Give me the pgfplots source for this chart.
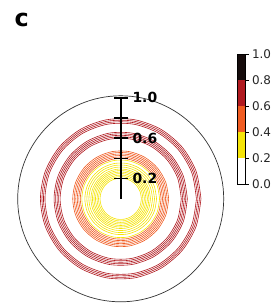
\documentclass[border=0pt]{standalone}
\usepackage{fontspec}
\setmainfont{DejaVu Sans}
\usepackage{pgfplots}
\usepackage{pgfplotstable}
\pgfplotsset{compat=1.18}
\usepgfplotslibrary{polar}

\definecolor{BIyellow}{RGB}{245,228,8}
\definecolor{BIorange}{RGB}{240,92,34}
\definecolor{BIred}{RGB}{176,26,32}
\definecolor{BIblack}{RGB}{22,12,12}

% rings: angle a (deg) and one radius (= BI value) per ring
\pgfplotstableread{
a   r1    r2   r3    r4   r5    r6   r7    r8    r9    r10   r11
0   0.205 0.22 0.235 0.25 0.265 0.28 0.295 0.315 0.335 0.355 0.385
20  0.205 0.22 0.235 0.25 0.265 0.28 0.295 0.315 0.335 0.355 0.385
40  0.205 0.22 0.235 0.25 0.265 0.28 0.295 0.315 0.335 0.355 0.385
60  0.205 0.22 0.235 0.25 0.265 0.28 0.295 0.315 0.335 0.355 0.385
80  0.205 0.22 0.235 0.25 0.265 0.28 0.295 0.315 0.335 0.355 0.385
100 0.205 0.22 0.235 0.25 0.265 0.28 0.295 0.315 0.335 0.355 0.385
120 0.205 0.22 0.235 0.25 0.265 0.28 0.295 0.315 0.335 0.355 0.385
140 0.205 0.22 0.235 0.25 0.265 0.28 0.295 0.315 0.335 0.355 0.385
160 0.205 0.22 0.235 0.25 0.265 0.28 0.295 0.315 0.335 0.355 0.385
180 0.205 0.22 0.235 0.25 0.265 0.28 0.295 0.315 0.335 0.355 0.385
200 0.205 0.22 0.235 0.25 0.265 0.28 0.295 0.315 0.335 0.355 0.385
220 0.205 0.22 0.235 0.25 0.265 0.28 0.295 0.315 0.335 0.355 0.385
240 0.205 0.22 0.235 0.25 0.265 0.28 0.295 0.315 0.335 0.355 0.385
260 0.205 0.22 0.235 0.25 0.265 0.28 0.295 0.315 0.335 0.355 0.385
280 0.205 0.22 0.235 0.25 0.265 0.28 0.295 0.315 0.335 0.355 0.385
300 0.205 0.22 0.235 0.25 0.265 0.28 0.295 0.315 0.335 0.355 0.385
320 0.205 0.22 0.235 0.25 0.265 0.28 0.295 0.315 0.335 0.355 0.385
340 0.205 0.22 0.235 0.25 0.265 0.28 0.295 0.315 0.335 0.355 0.385
360 0.205 0.22 0.235 0.25 0.265 0.28 0.295 0.315 0.335 0.355 0.385
}\yellowT

\pgfplotstableread{
a   r1   r2    r3   r4    r5   r6
0   0.40 0.415 0.43 0.445 0.46 0.475
20  0.40 0.415 0.43 0.445 0.46 0.475
40  0.40 0.415 0.43 0.445 0.46 0.475
60  0.40 0.415 0.43 0.445 0.46 0.475
80  0.40 0.415 0.43 0.445 0.46 0.475
100 0.40 0.415 0.43 0.445 0.46 0.475
120 0.40 0.415 0.43 0.445 0.46 0.475
140 0.40 0.415 0.43 0.445 0.46 0.475
160 0.40 0.415 0.43 0.445 0.46 0.475
180 0.40 0.415 0.43 0.445 0.46 0.475
200 0.40 0.415 0.43 0.445 0.46 0.475
220 0.40 0.415 0.43 0.445 0.46 0.475
240 0.40 0.415 0.43 0.445 0.46 0.475
260 0.40 0.415 0.43 0.445 0.46 0.475
280 0.40 0.415 0.43 0.445 0.46 0.475
300 0.40 0.415 0.43 0.445 0.46 0.475
320 0.40 0.415 0.43 0.445 0.46 0.475
340 0.40 0.415 0.43 0.445 0.46 0.475
360 0.40 0.415 0.43 0.445 0.46 0.475
}\orangeT

\pgfplotstableread{
a   r1   r2    r3   r4    r5   r6   r7    r8   r9
0   0.60 0.615 0.63 0.645 0.66 0.75 0.765 0.78 0.795
20  0.60 0.615 0.63 0.645 0.66 0.75 0.765 0.78 0.795
40  0.60 0.615 0.63 0.645 0.66 0.75 0.765 0.78 0.795
60  0.60 0.615 0.63 0.645 0.66 0.75 0.765 0.78 0.795
80  0.60 0.615 0.63 0.645 0.66 0.75 0.765 0.78 0.795
100 0.60 0.615 0.63 0.645 0.66 0.75 0.765 0.78 0.795
120 0.60 0.615 0.63 0.645 0.66 0.75 0.765 0.78 0.795
140 0.60 0.615 0.63 0.645 0.66 0.75 0.765 0.78 0.795
160 0.60 0.615 0.63 0.645 0.66 0.75 0.765 0.78 0.795
180 0.60 0.615 0.63 0.645 0.66 0.75 0.765 0.78 0.795
200 0.60 0.615 0.63 0.645 0.66 0.75 0.765 0.78 0.795
220 0.60 0.615 0.63 0.645 0.66 0.75 0.765 0.78 0.795
240 0.60 0.615 0.63 0.645 0.66 0.75 0.765 0.78 0.795
260 0.60 0.615 0.63 0.645 0.66 0.75 0.765 0.78 0.795
280 0.60 0.615 0.63 0.645 0.66 0.75 0.765 0.78 0.795
300 0.60 0.615 0.63 0.645 0.66 0.75 0.765 0.78 0.795
320 0.60 0.615 0.63 0.645 0.66 0.75 0.765 0.78 0.795
340 0.60 0.615 0.63 0.645 0.66 0.75 0.765 0.78 0.795
360 0.60 0.615 0.63 0.645 0.66 0.75 0.765 0.78 0.795
}\redT

\begin{document}
\begin{tikzpicture}
\path[use as bounding box] (0,0) rectangle (280bp,304bp);

% polar rings
\begin{polaraxis}[
  at={(120.7bp,105.2bp)}, anchor=center,
  scale only axis, width=206bp, height=206bp,
  ymin=0, ymax=1.02,
  xtick=\empty, ytick=\empty, grid=none,
  x axis line style={line width=0.7bp, color=black!80},
  y axis line style={draw=none},
]
\pgfplotsinvokeforeach{1,...,11}{
  \addplot[BIyellow, line width=0.6bp, smooth] table[x=a, y=r#1] {\yellowT};
}
\pgfplotsinvokeforeach{1,...,6}{
  \addplot[BIorange, line width=0.6bp, smooth] table[x=a, y=r#1] {\orangeT};
}
\pgfplotsinvokeforeach{1,...,9}{
  \addplot[BIred, line width=0.6bp, smooth] table[x=a, y=r#1] {\redT};
}
\end{polaraxis}

% radial scale
\begin{axis}[
  at={(120.7bp,105.2bp)}, anchor=center,
  scale only axis, width=206bp, height=206bp,
  xmin=-1.02, xmax=1.02, ymin=-1.02, ymax=1.02,
  hide axis, clip=false,
]
\addplot[black, line width=1.6bp] coordinates {(0,0) (0,1)};
\pgfplotsinvokeforeach{0.2,0.4,0.6,0.8,1.0}{
  \addplot[black, line width=1.6bp] coordinates {(-0.063,#1) (0.075,#1)};
}
\node[anchor=west, inner sep=0pt, font=\bfseries\fontsize{14}{14}\selectfont] at (axis cs:0.115,1.0) {1.0};
\node[anchor=west, inner sep=0pt, font=\bfseries\fontsize{14}{14}\selectfont] at (axis cs:0.115,0.6) {0.6};
\node[anchor=west, inner sep=0pt, font=\bfseries\fontsize{14}{14}\selectfont] at (axis cs:0.115,0.2) {0.2};
\end{axis}

% colorbar
\begin{axis}[
  at={(237.3bp,119.7bp)}, anchor=south west,
  scale only axis, width=7.7bp, height=130bp,
  xmin=0, xmax=1, ymin=0, ymax=1,
  xtick=\empty, ytick={0,0.2,0.4,0.6,0.8,1.0},
  ytick pos=right, yticklabel pos=right,
  tick align=outside, major tick length=3.5bp,
  tick style={black, line width=0.6bp},
  axis line style={line width=0.6bp},
  axis on top,
  /pgf/number format/assume math mode=true,
  yticklabel style={/pgf/number format/.cd, fixed, fixed zerofill, precision=1,
    /tikz/.cd, font=\fontsize{12}{12}\selectfont, text=black!85},
]
\addplot[fill=BIyellow, draw=none] coordinates {(0,0.2) (1,0.2) (1,0.4) (0,0.4)};
\addplot[fill=BIorange, draw=none] coordinates {(0,0.4) (1,0.4) (1,0.6) (0,0.6)};
\addplot[fill=BIred, draw=none] coordinates {(0,0.6) (1,0.6) (1,0.8) (0,0.8)};
\addplot[fill=BIblack, draw=none] coordinates {(0,0.8) (1,0.8) (1,1.0) (0,1.0)};
\node[anchor=base, inner sep=0pt, font=\fontsize{13}{13}\selectfont] at (axis cs:0.5,1.0) [yshift=6.5bp] {BI};
\end{axis}

\node[anchor=base west, inner sep=0pt, font=\bfseries\fontsize{24}{24}\selectfont] at (14.5bp,277bp) {c};
\end{tikzpicture}
\end{document}
